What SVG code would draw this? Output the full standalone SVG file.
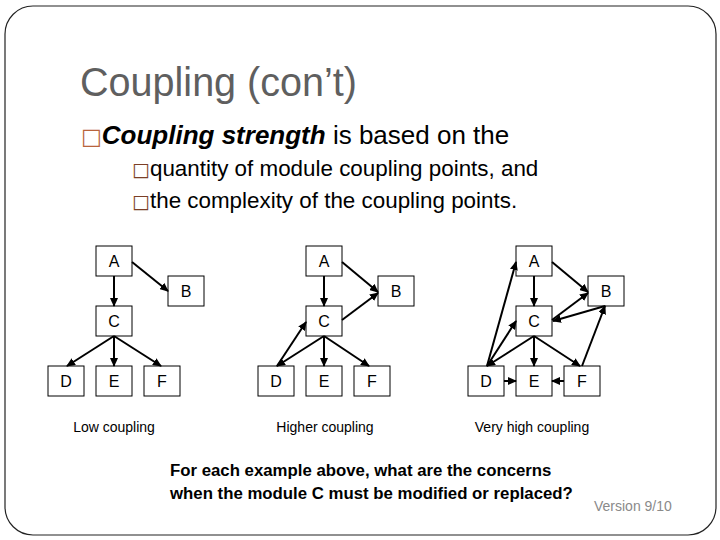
<svg xmlns="http://www.w3.org/2000/svg" width="720" height="540" viewBox="0 0 720 540">
<defs>
<style>
.frame{fill:#fff;stroke:#222;stroke-width:1.2}
.title{font-family:"Liberation Sans",Arial,sans-serif;font-size:40px;fill:#5f5f5f}
.b1{font-family:"Liberation Sans",Arial,sans-serif;font-size:26px;fill:#000}
.b2{font-family:"Liberation Sans",Arial,sans-serif;font-size:22.4px;fill:#000}
.bul{font-family:"DejaVu Sans",sans-serif}
.box{fill:#fff;stroke:#000;stroke-width:1}
.lbl{font-family:"Liberation Sans",Arial,sans-serif;font-size:16px;fill:#000;text-anchor:middle}
.cap{font-family:"Liberation Sans",Arial,sans-serif;font-size:14px;fill:#000;text-anchor:middle}
.q{font-family:"Liberation Sans",Arial,sans-serif;font-size:16.8px;font-weight:bold;fill:#000}
.ver{font-family:"Liberation Sans",Arial,sans-serif;font-size:14px;fill:#8a8a8a}
.e{stroke:#000;stroke-width:2;fill:none;marker-end:url(#ah)}
</style>
<marker id="ah" markerUnits="userSpaceOnUse" markerWidth="9" markerHeight="8" refX="8" refY="4" orient="auto">
<path d="M0,0 L9,4 L0,8 z" fill="#000"/>
</marker>
</defs>
<rect width="720" height="540" fill="#fff"/>
<rect class="frame" x="5" y="6" width="711" height="529" rx="28" ry="28"/>
<text class="title" x="80" y="96" textLength="277" lengthAdjust="spacingAndGlyphs">Coupling (con’t)</text>
<text class="b1" x="81" y="144"><tspan class="bul" style="font-size:22px" fill="#b8643c">□</tspan><tspan font-weight="bold" font-style="italic">Coupling strength</tspan> is based on the</text>
<text class="b2" x="132" y="176"><tspan class="bul" style="font-size:19px" fill="#7b3f26">□</tspan>quantity of module coupling points, and</text>
<text class="b2" x="132" y="208"><tspan class="bul" style="font-size:19px" fill="#7b3f26">□</tspan>the complexity of the coupling points.</text>

<g id="g1">
<g id="g1-A"><rect class="box" x="96" y="246" width="36" height="30"/><text class="lbl" x="114" y="267">A</text></g>
<g id="g1-B"><rect class="box" x="168" y="276" width="36" height="30"/><text class="lbl" x="186" y="297">B</text></g>
<g id="g1-C"><rect class="box" x="96" y="306" width="36" height="30"/><text class="lbl" x="114" y="327">C</text></g>
<g id="g1-D"><rect class="box" x="48" y="366" width="36" height="30"/><text class="lbl" x="66" y="387">D</text></g>
<g id="g1-E"><rect class="box" x="96" y="366" width="36" height="30"/><text class="lbl" x="114" y="387">E</text></g>
<g id="g1-F"><rect class="box" x="144" y="366" width="36" height="30"/><text class="lbl" x="162" y="387">F</text></g>
<text class="cap" x="114" y="432">Low coupling</text>
</g>

<g id="g2">
<g id="g2-A"><rect class="box" x="306" y="246" width="36" height="30"/><text class="lbl" x="324" y="267">A</text></g>
<g id="g2-B"><rect class="box" x="378" y="276" width="36" height="30"/><text class="lbl" x="396" y="297">B</text></g>
<g id="g2-C"><rect class="box" x="306" y="306" width="36" height="30"/><text class="lbl" x="324" y="327">C</text></g>
<g id="g2-D"><rect class="box" x="258" y="366" width="36" height="30"/><text class="lbl" x="276" y="387">D</text></g>
<g id="g2-E"><rect class="box" x="306" y="366" width="36" height="30"/><text class="lbl" x="324" y="387">E</text></g>
<g id="g2-F"><rect class="box" x="354" y="366" width="36" height="30"/><text class="lbl" x="372" y="387">F</text></g>
<text class="cap" x="325" y="432">Higher coupling</text>
</g>

<g id="g3">
<g id="g3-A"><rect class="box" x="516" y="246" width="36" height="30"/><text class="lbl" x="534" y="267">A</text></g>
<g id="g3-B"><rect class="box" x="588" y="276" width="36" height="30"/><text class="lbl" x="606" y="297">B</text></g>
<g id="g3-C"><rect class="box" x="516" y="306" width="36" height="30"/><text class="lbl" x="534" y="327">C</text></g>
<g id="g3-D"><rect class="box" x="468" y="366" width="36" height="30"/><text class="lbl" x="486" y="387">D</text></g>
<g id="g3-E"><rect class="box" x="516" y="366" width="36" height="30"/><text class="lbl" x="534" y="387">E</text></g>
<g id="g3-F"><rect class="box" x="564" y="366" width="36" height="30"/><text class="lbl" x="582" y="387">F</text></g>
<text class="cap" x="532" y="432">Very high coupling</text>
</g>

<g id="connectors">
<line class="e" x1="132" y1="262" x2="168" y2="291"/>
<line class="e" x1="114" y1="276" x2="114" y2="306"/>
<line class="e" x1="114" y1="336" x2="67" y2="366"/>
<line class="e" x1="114" y1="336" x2="114" y2="366"/>
<line class="e" x1="114" y1="336" x2="161" y2="366"/>

<line class="e" x1="342" y1="262" x2="378" y2="292"/>
<line class="e" x1="324" y1="276" x2="324" y2="306"/>
<line class="e" x1="342" y1="320" x2="378" y2="293"/>
<line class="e" x1="277" y1="366" x2="306" y2="322"/>
<line class="e" x1="324" y1="336" x2="277" y2="366"/>
<line class="e" x1="324" y1="336" x2="324" y2="366"/>
<line class="e" x1="324" y1="336" x2="369" y2="366"/>

<line class="e" x1="552" y1="262" x2="588" y2="292"/>
<line class="e" x1="534" y1="276" x2="534" y2="306"/>
<line class="e" x1="552" y1="320" x2="588" y2="293"/>
<line class="e" x1="605" y1="306" x2="553" y2="321"/>
<line class="e" x1="582" y1="366" x2="605" y2="306"/>
<line class="e" x1="487" y1="366" x2="516" y2="262"/>
<line class="e" x1="487" y1="366" x2="516" y2="321"/>
<line class="e" x1="534" y1="336" x2="487" y2="366"/>
<line class="e" x1="534" y1="336" x2="534" y2="366"/>
<line class="e" x1="534" y1="336" x2="580" y2="366"/>
<line class="e" x1="504" y1="381" x2="516" y2="381"/>
<line class="e" x1="564" y1="381" x2="552" y2="381"/>
</g>

<text class="q" x="170" y="476">For each example above, what are the concerns</text>
<text class="q" x="170" y="499">when the module C must be modified or replaced?</text>
<text class="ver" x="594" y="511">Version 9/10</text>
</svg>
